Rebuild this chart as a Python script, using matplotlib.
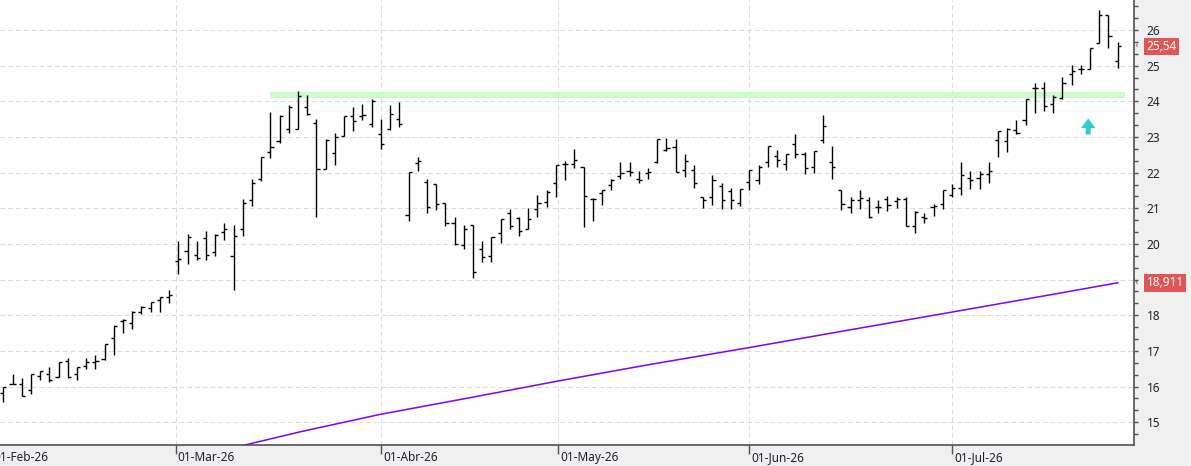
import matplotlib
matplotlib.use("Agg")
import matplotlib.pyplot as plt
from matplotlib.ticker import MultipleLocator
from matplotlib.transforms import blended_transform_factory

# daily OHLC, one bar per trading session (Feb..Jul 2026)
opens = [15.82, 16.07, 16.06, 15.91, 16.30, 16.36, 16.28, 16.73, 16.36, 16.58,
         16.68, 16.77, 17.37, 17.84, 17.77, 18.08, 18.19, 18.44, 18.50,
         19.51, 19.79, 19.70, 20.18, 19.78, 20.34, 19.66, 20.43, 21.23, 21.81,
         22.58, 22.90, 23.23, 23.23, 23.83, 23.40, 22.11, 22.56, 23.03, 23.59,
         23.59, 23.37,
         23.09, 23.21, 23.51, 20.82, 22.28, 21.74, 21.69, 21.16, 20.58, 19.98,
         20.52, 19.85, 19.66, 20.30, 20.88, 20.73, 20.43, 20.97, 21.18, 21.72,
         22.24, 22.25, 22.15, 21.25, 21.42, 21.65, 21.91, 22.05, 21.82, 22.00,
         22.31, 22.64, 22.72, 22.08, 22.08, 21.33, 21.31, 21.63, 21.48, 21.14,
         21.75, 21.80, 22.30, 22.47, 22.25, 22.81, 22.51, 22.15, 22.92, 22.30,
         21.50, 21.05, 21.24, 21.22, 21.05, 21.27, 21.20, 21.27, 20.49, 20.75,
         21.05, 21.11,
         21.37, 21.56, 21.84, 21.84, 21.96, 22.92, 22.88, 23.20, 23.48, 24.36,
         24.36, 23.93, 24.08, 24.77, 24.90, 24.92, 25.63, 26.41, 25.12]
highs = [16.00, 16.36, 16.23, 16.36, 16.45, 16.54, 16.69, 16.81, 16.56, 16.81,
         16.89, 17.20, 17.72, 17.90, 18.12, 18.27, 18.38, 18.52, 18.72,
         20.07, 20.29, 20.07, 20.36, 20.29, 20.58, 20.54, 21.25, 21.81, 22.43,
         23.70, 23.63, 23.89, 24.28, 24.19, 23.51, 22.93, 23.12, 23.58, 23.83,
         23.93, 24.07,
         23.51, 23.89, 23.98, 22.02, 22.43, 21.83, 21.69, 21.16, 20.76, 20.54,
         20.52, 20.07, 20.19, 20.71, 20.97, 20.75, 21.01, 21.38, 21.50, 22.21,
         22.32, 22.66, 22.17, 21.28, 21.52, 21.82, 22.29, 22.29, 22.05, 22.13,
         22.94, 22.98, 22.94, 22.53, 22.22, 21.33, 21.93, 21.70, 21.56, 21.54,
         22.07, 22.21, 22.75, 22.64, 22.52, 23.07, 22.59, 22.60, 23.63, 22.75,
         21.50, 21.33, 21.50, 21.33, 21.24, 21.35, 21.31, 21.33, 20.92, 20.86,
         21.12, 21.50,
         21.68, 22.30, 22.04, 22.04, 22.30, 23.17, 23.25, 23.48, 24.06, 24.52,
         24.55, 24.17, 24.69, 25.01, 25.01, 25.50, 26.56, 26.43, 25.66]
lows = [15.56, 16.06, 15.74, 15.79, 16.19, 16.13, 16.26, 16.24, 16.19, 16.49,
        16.49, 16.75, 16.88, 17.50, 17.62, 18.03, 18.09, 18.09, 18.35,
        19.16, 19.44, 19.55, 19.55, 19.66, 20.11, 18.71, 20.22, 21.07, 21.76,
        22.41, 22.82, 23.12, 23.23, 23.63, 20.76, 22.11, 22.21, 23.03, 23.16,
        23.48, 23.28,
        22.65, 23.19, 23.28, 20.64, 22.04, 20.87, 20.95, 20.50, 19.98, 19.85,
        19.05, 19.48, 19.50, 20.04, 20.41, 20.22, 20.43, 20.76, 21.04, 21.32,
        21.80, 22.13, 20.48, 20.65, 21.10, 21.50, 21.82, 21.91, 21.70, 21.82,
        22.27, 22.60, 22.01, 21.89, 21.56, 21.02, 21.10, 20.98, 20.97, 21.07,
        21.51, 21.67, 22.17, 22.17, 22.06, 22.41, 21.95, 22.00, 22.83, 21.82,
        20.94, 20.88, 20.97, 20.73, 20.88, 20.92, 21.00, 20.49, 20.32, 20.58,
        20.77, 20.99,
        21.31, 21.38, 21.53, 21.53, 21.70, 22.43, 22.59, 23.08, 23.33, 23.68,
        23.74, 23.66, 24.06, 24.47, 24.77, 24.92, 25.63, 25.49, 24.93]
closes = [16.00, 16.08, 15.74, 16.36, 16.43, 16.19, 16.69, 16.26, 16.54, 16.69,
          16.71, 17.20, 17.69, 17.86, 18.10, 18.23, 18.37, 18.50, 18.56,
          19.59, 20.19, 19.61, 19.70, 20.24, 20.43, 20.22, 21.16, 21.72, 22.43,
          22.73, 23.59, 23.83, 24.15, 23.64, 22.11, 22.91, 23.01, 23.58, 23.46,
          23.63, 24.02,
          22.79, 23.65, 23.35, 22.02, 22.34, 21.05, 21.13, 20.58, 20.00, 20.41,
          19.21, 19.64, 20.19, 20.71, 20.49, 20.37, 20.69, 21.14, 21.46, 22.21,
          22.24, 22.36, 21.35, 21.25, 21.50, 21.80, 22.00, 22.02, 21.80, 22.02,
          22.94, 22.69, 22.01, 22.33, 21.72, 21.23, 21.80, 21.23, 21.23, 21.54,
          22.07, 22.17, 22.75, 22.36, 22.52, 22.51, 22.13, 22.60, 23.32, 22.15,
          21.11, 21.24, 21.30, 20.75, 21.03, 21.09, 21.27, 20.49, 20.90, 20.72,
          21.07, 21.50,
          21.56, 21.93, 21.79, 21.96, 22.04, 23.17, 23.23, 23.10, 24.06, 24.36,
          23.87, 24.13, 24.50, 24.84, 24.90, 25.50, 26.42, 25.83, 25.54]

# long moving average, read at a handful of bars
ma_x = [26.2, 32.2, 40.9, 50.7, 60.1, 70.2, 80.9, 91.9, 102.8, 113.6, 121]
ma_vals = [14.36, 14.73, 15.22, 15.69, 16.15, 16.62, 17.09, 17.59, 18.08, 18.57, 18.911]

month_labels = ["01-Feb-26", "01-Mar-26", "01-Abr-26", "01-May-26", "01-Jun-26", "01-Jul-26"]
month_pos = [-1.3, 18.72, 41, 60.26, 81, 103]

resistance = 24.18
res_from, res_to = 29, 121.8
signal_x, signal_lo, signal_hi = 117.8, 23.07, 23.52

plt.rcParams["lines.scale_dashes"] = False
fig = plt.figure(figsize=(11.91, 4.66), dpi=100, facecolor="#f0f0f0")
ax = fig.add_axes([0, 21 / 466, 1134 / 1191, 445 / 466])
ax.set_facecolor("white")

x = list(range(len(closes)))
ax.set_xlim(-0.36, 122.77)
ax.set_ylim(14.362, 26.841)

# grid
for yv in range(15, 27):
    ax.axhline(yv, color="#dcdcdc", lw=0.75, ls=(0, (3.4, 2.2)), zorder=0)
for xv in month_pos:
    ax.axvline(xv, color="#dcdcdc", lw=0.75, ls=(0, (3.4, 2.2)), zorder=0)

ax.hlines(resistance, res_from, res_to, color="#ccfccc", lw=4.4, zorder=1)
ax.plot(ma_x, ma_vals, color="#8000ff", lw=1.1, zorder=2)

# OHLC bars
ax.vlines(x, lows, highs, color="black", lw=1.0, zorder=3)
ax.hlines(opens, [i - 0.34 for i in x], x, color="black", lw=1.0, zorder=3)
ax.hlines(closes, x, [i + 0.34 for i in x], color="black", lw=1.0, zorder=3)

ax.arrow(signal_x, signal_lo, 0, signal_hi - signal_lo, width=0.55, head_width=1.55,
         head_length=0.27, length_includes_head=True, color="#33cccc", lw=0, zorder=3)

# axes styling
for s in ["left", "top"]:
    ax.spines[s].set_visible(False)
ax.spines["right"].set_color("#505050")
ax.spines["bottom"].set_color("#505050")
ax.spines["right"].set_linewidth(1.2)
ax.spines["bottom"].set_linewidth(1.2)

ax.yaxis.tick_right()
ax.set_yticks(range(15, 27))
ax.yaxis.set_minor_locator(MultipleLocator(1 / 3))
ax.tick_params(axis="y", which="both", direction="out", length=3, width=1, color="#505050",
               pad=6, labelsize=8.5, labelcolor="#202030")
for lab in ax.get_yticklabels():
    lab.set_fontfamily("Noto Sans")

ax.set_xticks(month_pos[1:])
ax.set_xticklabels([])
ax.tick_params(axis="x", direction="out", length=6.5, width=1, color="#505050")
for pos, lab in zip(month_pos, month_labels):
    ax.annotate(lab, xy=(pos, 0), xycoords=("data", "axes fraction"), xytext=(1.5, -9),
                textcoords="offset points", ha="left", va="center", fontsize=8.5,
                family="Noto Sans", color="#202030", annotation_clip=False)

# last-value tags on the price axis
tr = blended_transform_factory(ax.transAxes, ax.transData)
for val, txt in [(closes[-1], "25,54"), (ma_vals[-1], "18,911")]:
    ax.text(1.0112, val, txt, transform=tr, ha="left", va="center", fontsize=8.5,
            family="Noto Sans", color="white", clip_on=False,
            bbox=dict(boxstyle="square,pad=0.2", fc="#e05555", ec="none"))
    ax.text(1.0002, val, "‹", transform=tr, ha="left", va="center", fontsize=6.5,
            color="#505050", clip_on=False)

fig.savefig("out.png", dpi=100, facecolor=fig.get_facecolor())
